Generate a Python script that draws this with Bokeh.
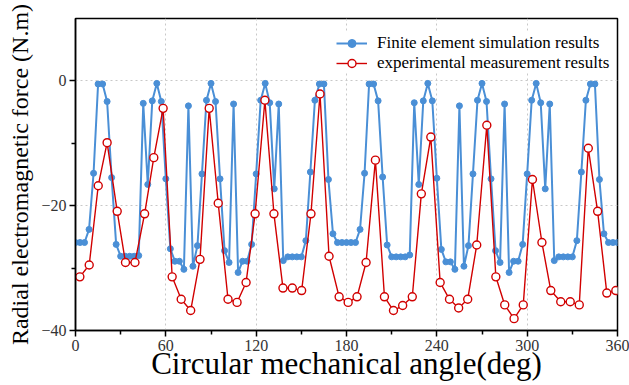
from bokeh.plotting import figure
from bokeh.models import ColumnDataSource, FixedTicker, Range1d, Legend, LegendItem
from bokeh.embed import file_html
from bokeh.resources import INLINE

# Finite element simulation (every 3 degrees)
angle_sim = list(range(0, 361, 3))
force_sim = [
    -25.9, -25.9, -25.9, -23.8, -14.8, -0.5, -0.5, -3.3, -15.5, -26.2,
    -28.1, -28.1, -28.1, -28.1, -28.0, -3.6, -16.6, -3.2, -0.4, -3.3,
    -15.7, -26.9, -28.9, -28.9, -30.2, -4.0, -29.7, -26.4, -14.9, -3.1,
    -0.4, -3.3, -15.7, -27.2, -29.1, -3.7, -30.7, -28.9, -28.9, -26.2,
    -14.9, -3.1, -0.4, -3.5, -17.3, -3.7, -28.8, -28.2, -28.2, -28.2,
    -28.2, -25.6, -14.6, -3.1, -0.5, -0.5, -15.8, -24.5, -25.9, -25.9,
    -25.9, -25.9, -25.9, -23.8, -14.8, -0.5, -0.5, -3.2, -15.4, -26.3,
    -28.2, -28.2, -28.2, -28.2, -27.9, -3.5, -16.6, -3.2, -0.4, -3.2,
    -15.6, -27.0, -29.0, -29.0, -30.2, -4.0, -29.7, -26.4, -14.9, -3.1,
    -0.4, -3.3, -15.7, -27.2, -29.1, -3.7, -30.7, -28.9, -28.9, -26.2,
    -14.9, -3.1, -0.4, -3.5, -17.3, -3.7, -28.8, -28.2, -28.2, -28.2,
    -28.2, -25.6, -14.6, -3.1, -0.5, -0.5, -15.8, -24.5, -25.9, -25.9,
    -25.9,
]

# Experimental measurement
angle_exp = [
    2.9, 9.1, 15.1, 21.0, 27.7, 33.2, 39.5, 45.9, 52.0, 58.2,
    64.2, 70.2, 76.5, 82.7, 88.8, 94.8, 101.3, 107.3, 113.3, 119.3,
    125.8, 131.8, 137.8, 144.0, 150.2, 156.4, 162.4, 168.4, 175.1, 181.1,
    187.0, 193.0, 199.2, 205.2, 211.2, 217.3, 223.7, 229.7, 236.0, 242.2,
    248.4, 254.5, 260.5, 266.5, 273.2, 279.2, 285.1, 291.3, 297.4, 303.5,
    309.8, 315.7, 322.3, 328.6, 334.6, 340.6, 346.8, 352.9, 358.9,
]
force_exp = [
    -31.4, -29.5, -16.8, -9.9, -20.9, -29.1, -29.1, -21.3, -12.3, -4.4,
    -31.4, -35.0, -36.8, -28.6, -4.4, -19.6, -35.0, -35.5, -32.3, -21.3,
    -3.1, -21.3, -33.2, -33.2, -33.6, -21.3, -2.1, -28.1, -34.6, -35.5,
    -34.6, -29.1, -12.7, -34.6, -36.8, -36.0, -34.6, -18.1, -9.0, -32.3,
    -35.0, -36.4, -35.0, -26.3, -7.1, -31.4, -35.9, -38.1, -35.9, -15.8,
    -25.9, -33.6, -35.4, -35.4, -35.9, -10.8, -20.9, -34.0, -33.6,
]

x_ticks = [0, 60, 120, 180, 240, 300, 360]
x_minor = [30, 90, 150, 210, 270, 330]
y_ticks = [-40, -20, 0]
y_minor = [-30, -10]

label_sim = "Finite element simulation results"
label_exp = "experimental measurement results"

SERIF = "Liberation Serif"
BLUE = "#4a8fd6"
RED = "#d10000"

src_sim = ColumnDataSource(dict(x=angle_sim, y=force_sim))
src_exp = ColumnDataSource(dict(x=angle_exp, y=force_exp))

p = figure(width=629, height=385, output_backend="svg", toolbar_location=None,
           x_range=Range1d(0, 360), y_range=Range1d(-40, 10),
           min_border_left=75, min_border_right=12, min_border_top=18,
           min_border_bottom=55)

l1 = p.line("x", "y", source=src_sim, line_color=BLUE, line_width=2)
s1 = p.scatter("x", "y", source=src_sim, size=6, fill_color=BLUE, line_color=BLUE)
l2 = p.line("x", "y", source=src_exp, line_color=RED, line_width=1.4)
s2 = p.scatter("x", "y", source=src_exp, size=8, fill_color="white",
               line_color=RED, line_width=1.4)

p.xaxis.ticker = FixedTicker(ticks=x_ticks, minor_ticks=x_minor)
p.yaxis.ticker = FixedTicker(ticks=y_ticks, minor_ticks=y_minor)
p.xgrid.ticker = FixedTicker(ticks=x_ticks)
p.ygrid.ticker = FixedTicker(ticks=y_ticks)

for g in (p.xgrid, p.ygrid):
    g.grid_line_color = "#c8c8c8"
    g.grid_line_dash = "2 3"
    g.grid_line_width = 1

for ax in (p.xaxis, p.yaxis):
    ax.axis_line_color = "black"
    ax.axis_line_width = 1.5
    ax.major_tick_line_color = "black"
    ax.minor_tick_line_color = "black"
    ax.major_tick_line_width = 1.5
    ax.minor_tick_line_width = 1.5
    ax.major_tick_in = 0
    ax.major_tick_out = 6
    ax.minor_tick_in = 0
    ax.minor_tick_out = 4
    ax.major_label_text_font = SERIF
    ax.major_label_text_font_size = "16px"
    ax.major_label_text_color = "#333333"
    ax.major_label_standoff = 3
    ax.axis_label_text_font = SERIF
    ax.axis_label_text_font_style = "normal"
    ax.axis_label_text_color = "black"

p.xaxis.axis_label = "Circular mechanical angle(deg)"
p.xaxis.axis_label_text_font_size = "31px"
p.xaxis.axis_label_standoff = -8
p.yaxis.axis_label = "Radial electromagnetic force (N.m)"
p.yaxis.axis_label_text_font_size = "24px"
p.yaxis.axis_label_standoff = 5

p.outline_line_color = "black"
p.outline_line_width = 1.5

legend = Legend(items=[LegendItem(label=label_sim, renderers=[l1, s1]),
                       LegendItem(label=label_exp, renderers=[l2, s2])],
                location=(261, 257))
legend.label_text_font = SERIF
legend.label_text_font_size = "17px"
legend.label_text_color = "black"
legend.border_line_color = None
legend.background_fill_color = "white"
legend.background_fill_alpha = 1.0
legend.glyph_width = 31
legend.glyph_height = 20
legend.label_height = 20
legend.label_standoff = 10
legend.spacing = 0
legend.padding = 5
legend.margin = 0
p.add_layout(legend)

open("out.html", "w").write(file_html(p, INLINE))
